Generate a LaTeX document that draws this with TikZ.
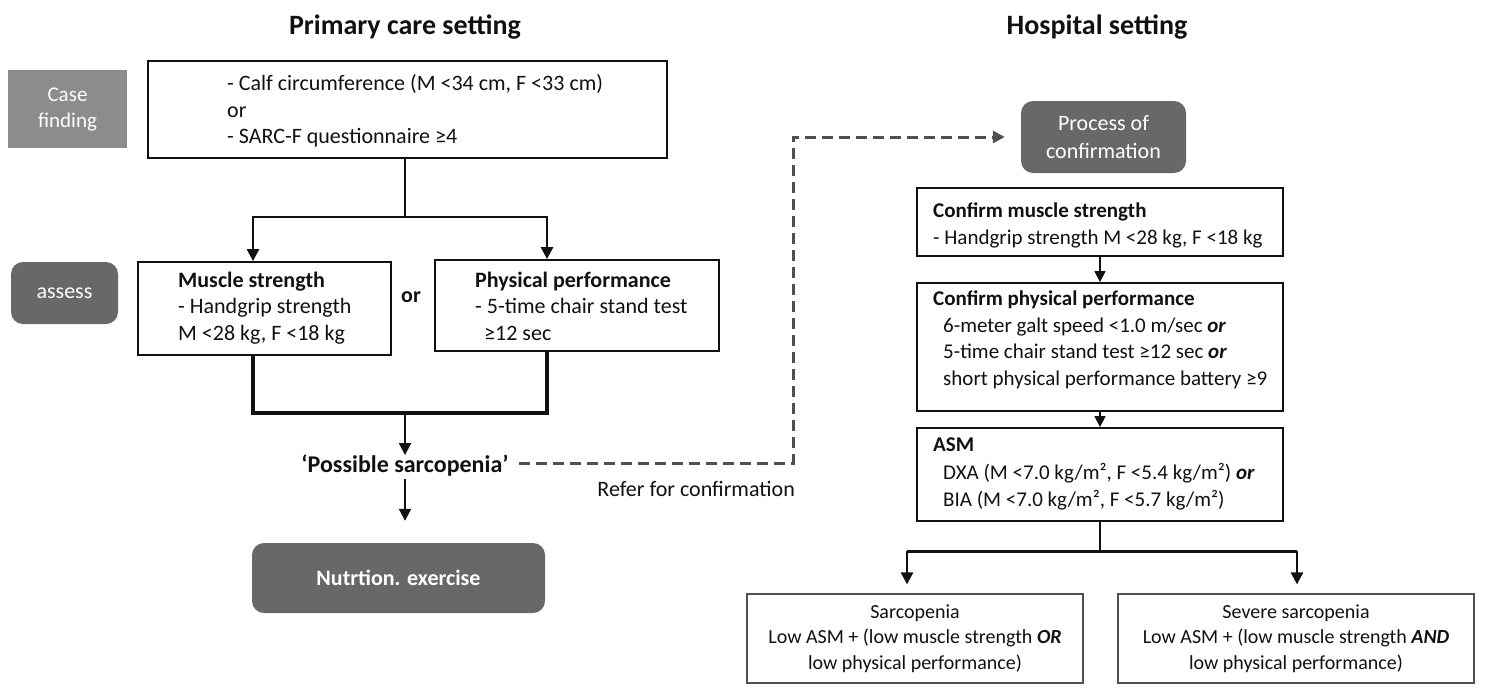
\documentclass[tikz,border=0pt]{standalone}
\usepackage{fontspec}
\setmainfont{Carlito}
\usetikzlibrary{arrows.meta}
\definecolor{lgray}{HTML}{8C8C8C}
\definecolor{dgray}{HTML}{686868}
\definecolor{dash}{HTML}{505050}
\definecolor{ink}{HTML}{111111}
\begin{document}
\begin{tikzpicture}[x=1pt,y=-1pt,
  box/.style={draw=ink, line width=1.8pt, inner sep=0pt, fill=white},
  lbox/.style={draw=dash, line width=1.2pt, inner sep=0pt, fill=white, align=center, text=ink, font=\fontsize{20}{25.5}\selectfont},
  gbox/.style={fill=lgray, inner sep=0pt, text=white, align=center, font=\fontsize{21}{26}\selectfont},
  dbox/.style={fill=dgray, rounded corners=12pt, inner sep=0pt, text=white, align=center},
  ltxt/.style={inner sep=0pt, anchor=west, align=left, text=ink, font=\fontsize{22}{26.5}\selectfont},
  rtxt/.style={inner sep=0pt, anchor=west, align=left, text=ink, font=\fontsize{21}{26.5}\selectfont},
  arr/.style={draw=ink, line width=2.6pt, -{Triangle[length=12pt,width=12pt]}},
  arrthin/.style={draw=ink, line width=1.3pt, -{Triangle[length=11pt,width=11pt]}},
  thickline/.style={draw=ink, line width=3.6pt},
  dasharr/.style={draw=dash, line width=3pt, dash pattern=on 11pt off 6pt, -{Triangle[length=12pt,width=12pt]}}
]
\useasboundingbox[fill=white] (0,0) rectangle (1485,688);

% titles
\node[inner sep=0pt, text=ink, font=\fontsize{28}{32}\bfseries] (t1) at (405,27) {Primary care setting};
\node[inner sep=0pt, text=ink, font=\fontsize{28}{32}\bfseries] (t2) at (1097,27) {Hospital setting};

% left column
\node[gbox, minimum width=119pt, minimum height=78pt] (case) at (67.5,109) {Case\\finding};
\node[box, minimum width=519pt, minimum height=97pt] (b1) at (407.5,109.5) {};
\node[ltxt] (b1t) at (227,111) {- Calf circumference (M <34 cm, F <33 cm)\\or\\- SARC-F questionnaire ≥4};

\node[dbox, minimum width=107pt, minimum height=62pt, font=\fontsize{22}{26}\selectfont] (assess) at (64.5,293) {assess};
\node[box, minimum width=253pt, minimum height=93pt] (ms) at (264.5,308.5) {};
\node[ltxt] (mst) at (178,308) {\textbf{Muscle strength}\\- Handgrip strength\\M <28 kg, F <18 kg};
\node[inner sep=0pt, text=ink, font=\fontsize{22}{26}\bfseries] (or) at (411,297) {or};
\node[box, minimum width=284pt, minimum height=91pt] (pp) at (577,305.5) {};
\node[ltxt] (ppt) at (475,306) {\textbf{Physical performance}\\- 5-time chair stand test\\\hspace*{9pt}≥12 sec};

\node[inner sep=0pt, text=ink, font=\fontsize{24}{28}\bfseries] (ps) at (405,466) {‘Possible sarcopenia’};
\node[dbox, minimum width=293pt, minimum height=70pt, font=\fontsize{22}{26}\bfseries] (nut) at (398.5,578) {Nutrtion. exercise};
\node[inner sep=0pt, anchor=east, text=ink, font=\fontsize{22}{26}\selectfont] (refer) at (795,489) {Refer for confirmation};

% right column
\node[dbox, minimum width=165pt, minimum height=72pt, font=\fontsize{22}{28}\selectfont] (proc) at (1103.5,137) {Process of\\confirmation};
\node[box, minimum width=366pt, minimum height=68pt] (cms) at (1100,222) {};
\node[rtxt] (cmst) at (933,225.5) {\textbf{Confirm muscle strength}\\- Handgrip strength M <28 kg, F <18 kg};
\node[box, minimum width=366pt, minimum height=128pt] (cpp) at (1100,347) {};
\node[rtxt] (cppt) at (933,340) {\textbf{Confirm physical performance}\\\hspace*{10pt}6-meter galt speed <1.0 m/sec \textbf{\textit{or}}\\\hspace*{10pt}5-time chair stand test ≥12 sec \textbf{\textit{or}}\\\hspace*{10pt}short physical performance battery ≥9};
\node[box, minimum width=366pt, minimum height=93pt] (asm) at (1100,474.5) {};
\node[rtxt, font=\fontsize{21}{27.5}\selectfont] (asmt) at (933,474) {\textbf{ASM}\\\hspace*{10pt}DXA (M <7.0 kg/m², F <5.4 kg/m²) \textbf{\textit{or}}\\\hspace*{10pt}BIA (M <7.0 kg/m², F <5.7 kg/m²)};

\node[lbox, minimum width=336pt, minimum height=89pt] (sarc) at (915,638.5) {Sarcopenia\\Low ASM + (low muscle strength \textbf{\textit{OR}}\\low physical performance)};
\node[lbox, minimum width=356pt, minimum height=89pt] (sev) at (1296,638.5) {Severe sarcopenia\\Low ASM + (low muscle strength \textbf{\textit{AND}}\\low physical performance)};

% connectors left
\coordinate (j1) at (405,217);
\coordinate (a1) at (253,217);
\coordinate (a2) at (547,217);
\draw[draw=ink, line width=2.8pt] (b1.south -| j1) -- (j1);
\draw[arr] (j1) -- (a1) -- (a1 |- ms.north);
\draw[arr] (j1) -- (a2) -- (a2 |- pp.north);
\coordinate (j2) at (405,413);
\coordinate (c1) at (253,413);
\coordinate (c2) at (547,413);
\draw[thickline] (c1 |- ms.south) -- (c1) -- (c2) -- (c2 |- pp.south);
\draw[arr, line width=2pt] (j2) -- (ps.north);
\draw[arr, line width=2pt, shorten >=22pt, shorten <=2pt] (ps.south) -- (nut.north -| ps.south);

% dashed referral
\coordinate (d1) at (793,463);
\draw[dasharr, shorten <=10pt, shorten >=16pt] (ps.east |- d1) -- (d1) -- (d1 |- proc.west) -- (proc.west);

% connectors right
\draw[arrthin] (cms.south) -- (cpp.north);
\draw[arrthin] (cpp.south) -- (asm.north);
\coordinate (j3) at (1100,551);
\coordinate (e1) at (907,551);
\coordinate (e2) at (1297,551);
\draw[draw=ink, line width=1.3pt] (asm.south) -- (j3);
\draw[draw=ink, line width=3pt] (e1) -- (e2);
\draw[arr, shorten >=9pt] (e1) -- (e1 |- sarc.north);
\draw[arr, shorten >=9pt] (e2) -- (e2 |- sev.north);
\end{tikzpicture}
\end{document}
